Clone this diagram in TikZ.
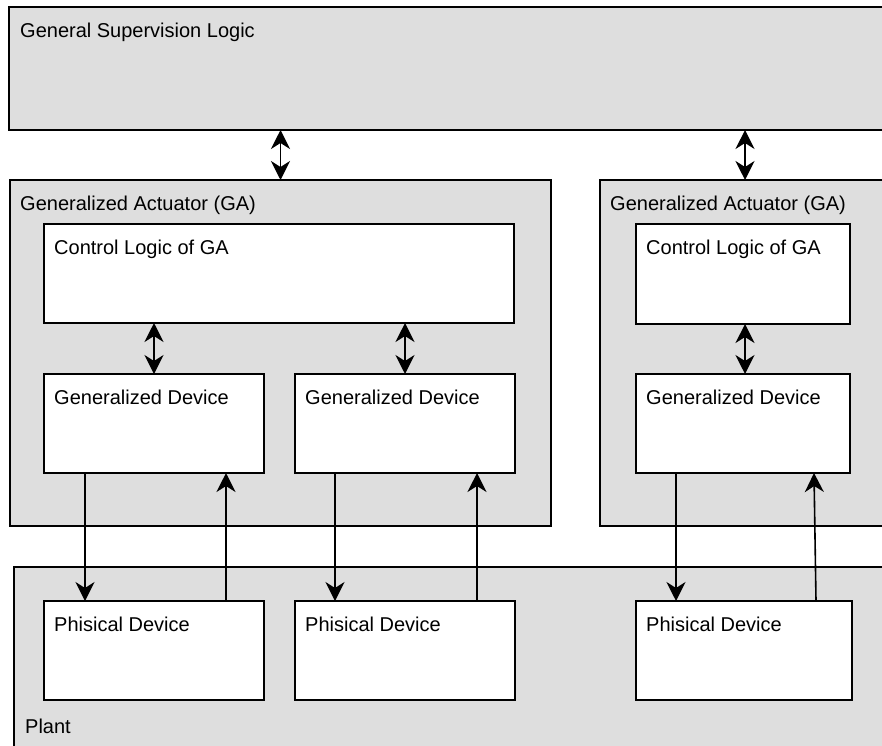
\documentclass[tikz,border=0pt]{standalone}
\usepackage{fontspec}
\setmainfont{Liberation Sans}
\usetikzlibrary{arrows.meta,calc}
\begin{document}
\begin{tikzpicture}[x=1pt,y=-1pt,
  box/.style={draw=black,line width=1.6pt,rectangle,anchor=north west,inner sep=0pt,outer sep=0pt},
  greybox/.style={box,fill=black!13},
  whitebox/.style={box,fill=white},
  lbl/.style={anchor=base west,inner sep=0pt,font=\fontsize{20}{24}\selectfont,text=black},
  conn/.style={line width=1.6pt,-{Stealth[length=19pt,width=19pt,inset=6pt]}},
  dconn/.style={line width=1.6pt,{Stealth[length=19pt,width=19pt,inset=6pt]}-{Stealth[length=19pt,width=19pt,inset=6pt]}}]
\useasboundingbox (0,0) rectangle (882,745);
\clip (0,0) rectangle (882,745);
\fill[fill=white] (0,0) rectangle (882,745);
% top
\node[greybox,minimum width=900pt,minimum height=123pt] (gsl) at (9,7) {};
\node[lbl] at ([shift={(11,30)}]gsl.north west) {General Supervision Logic};
% GA left
\node[greybox,minimum width=541pt,minimum height=346pt] (ga1) at (10,180) {};
\node[lbl] at ([shift={(10,30)}]ga1.north west) {Generalized Actuator (GA)};
\node[whitebox,minimum width=470pt,minimum height=99pt] (cl1) at (44,224) {};
\node[lbl] at ([shift={(10,30)}]cl1.north west) {Control Logic of GA};
\node[whitebox,minimum width=220pt,minimum height=99pt] (gd1) at (44,374) {};
\node[lbl] at ([shift={(10,30)}]gd1.north west) {Generalized Device};
\node[whitebox,minimum width=220pt,minimum height=99pt] (gd2) at (295,374) {};
\node[lbl] at ([shift={(10,30)}]gd2.north west) {Generalized Device};
% GA right
\node[greybox,minimum width=300pt,minimum height=346pt] (ga2) at (600,180) {};
\node[lbl] at ([shift={(10,30)}]ga2.north west) {Generalized Actuator (GA)};
\node[whitebox,minimum width=214pt,minimum height=100pt] (cl2) at (636,224) {};
\node[lbl] at ([shift={(10,30)}]cl2.north west) {Control Logic of GA};
\node[whitebox,minimum width=214pt,minimum height=99pt] (gd3) at (636,374) {};
\node[lbl] at ([shift={(10,30)}]gd3.north west) {Generalized Device};
% Plant
\node[greybox,minimum width=900pt,minimum height=200pt] (plant) at (14,567) {};
\node[lbl] at (25,733) {Plant};
\node[whitebox,minimum width=220pt,minimum height=99pt] (pd1) at (44,601) {};
\node[lbl] at ([shift={(10,30)}]pd1.north west) {Phisical Device};
\node[whitebox,minimum width=220pt,minimum height=99pt] (pd2) at (295,601) {};
\node[lbl] at ([shift={(10,30)}]pd2.north west) {Phisical Device};
\node[whitebox,minimum width=216pt,minimum height=99pt] (pd3) at (636,601) {};
\node[lbl] at ([shift={(10,30)}]pd3.north west) {Phisical Device};
% connectors
\draw[dconn] (ga1.north) -- (ga1.north |- gsl.south);
\draw[dconn] ([xshift=2]cl2.north |- ga2.north) -- ([xshift=2]cl2.north |- gsl.south);
\draw[dconn] (gd1.north) -- (gd1.north |- cl1.south);
\draw[dconn] (gd2.north) -- (gd2.north |- cl1.south);
\draw[dconn] ([xshift=2]gd3.north) -- ([xshift=2]cl2.south);
\draw[conn] ([xshift=41]gd1.south west) -- ([xshift=41]pd1.north west);
\draw[conn] ([xshift=-38]pd1.north east) -- ([xshift=-38]gd1.south east);
\draw[conn] ([xshift=40]gd2.south west) -- ([xshift=40]pd2.north west);
\draw[conn] ([xshift=-38]pd2.north east) -- ([xshift=-38]gd2.south east);
\draw[conn] ([xshift=40]gd3.south west) -- ([xshift=40]pd3.north west);
\draw[conn] ([xshift=-36]pd3.north east) -- ([xshift=-36]gd3.south east);
\end{tikzpicture}
\end{document}
